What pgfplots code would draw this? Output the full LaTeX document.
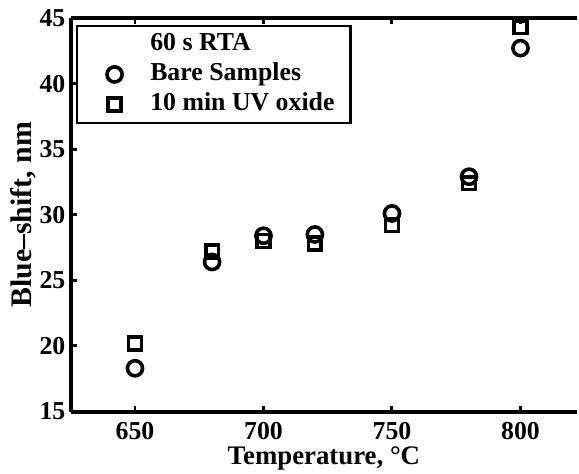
\documentclass[border=0pt]{standalone}
\usepackage{pgfplots}
\pgfplotsset{compat=1.18}
\usetikzlibrary{calc}
\usepackage{fontspec}
\setmainfont{Liberation Serif}
\pgfplotsset{mylegend/.style={legend image code/.code={\path (0bp,0bp) (35bp,0bp); \draw[##1] plot coordinates {(18bp,0bp)};}}}
\begin{document}
\begin{tikzpicture}
\begin{axis}[
  scale only axis,
  width=254bp, height=197.5bp,
  xmin=625, xmax=822, ymin=15, ymax=45,
  axis x line*=box, axis y line*=left,
  axis line style={line width=2bp},
  xtick={650,700,750,800},
  ytick={15,20,25,30,35,40,45},
  tick align=inside,
  major tick length=3bp,
  tick style={line width=1.5bp,black},
  xtick pos=both,
  /pgf/number format/assume math mode=true,
  /pgf/number format/1000 sep={},
  font=\fontsize{13}{15}\selectfont\bfseries,
  ticklabel style={font=\fontsize{13}{15}\selectfont\bfseries},
  xticklabel style={inner sep=0bp, yshift=-5bp},
  yticklabel style={inner xsep=2.5bp},
  xlabel={Temperature, °C},
  ylabel={Blue--shift, nm},
  xlabel style={at={($(rel axis cs:0.5,0)+(0,-17.5bp)$)}, anchor=north, inner sep=0bp,
    font=\fontsize{13.5}{15}\selectfont\bfseries},
  ylabel style={at={($(rel axis cs:0,0.5)+(-17bp,0)$)}, anchor=south, inner sep=0bp,
    font=\fontsize{15}{16}\selectfont\bfseries},
  legend style={at={(rel axis cs:0.0098,0.9823)}, anchor=north west,
    draw=black, line width=1.2bp, inner xsep=0bp, inner ysep=1.75bp, row sep=0bp,
    font=\fontsize{13}{15}\selectfont\bfseries, cells={anchor=west},
    nodes={inner xsep=0bp, inner ysep=1.5bp, text height=9bp, text depth=3bp}},
  clip=false,
]
\addlegendimage{empty legend}
\addlegendentry{60 s RTA}
\addplot[only marks, mark=o, mark size=3.8bp, line width=1.8bp, mark options={line width=1.8bp}, mylegend]
  coordinates {(650,18.3) (680,26.4) (700,28.4) (720,28.5) (750,30.1) (780,32.9) (800,42.7)};
\addlegendentry{Bare Samples}
\addplot[only marks, mark=square, mark size=3.2bp, line width=1.8bp, mark options={line width=1.8bp}, mylegend]
  coordinates {(650,20.2) (680,27.2) (700,28.0) (720,27.8) (750,29.2) (780,32.4) (800,44.3)};
\addlegendentry{10 min UV oxide\hspace*{8bp}}
\coordinate (LL) at (rel axis cs:0,0);
\coordinate (UL) at (rel axis cs:0,1);
\end{axis}
\path (LL) ++(-35.5bp,-31bp);
\path (UL) ++(0,9bp);
\end{tikzpicture}
\end{document}
